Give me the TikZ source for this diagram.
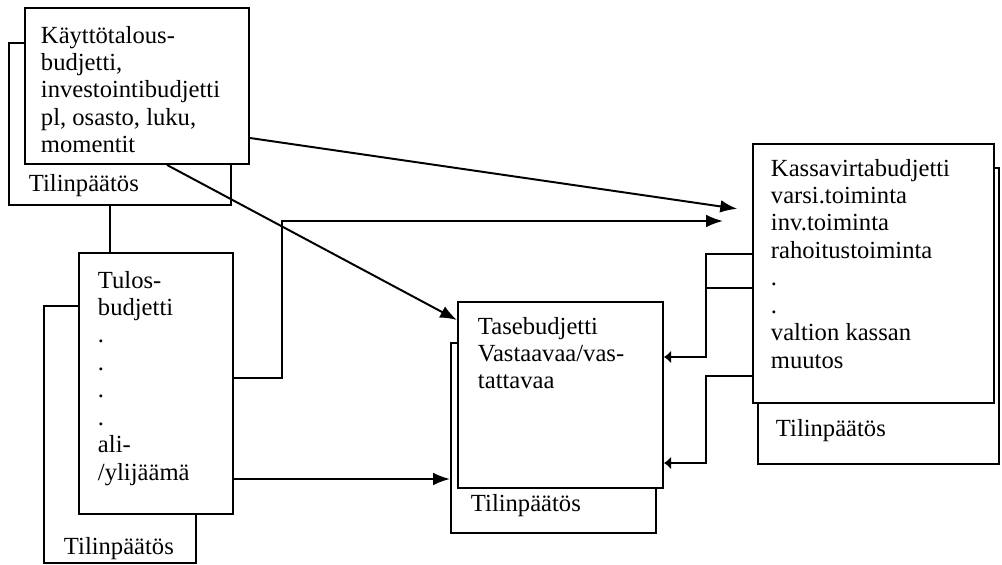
\documentclass[tikz,border=0pt]{standalone}
\usepackage{fontspec}
\setmainfont{Liberation Serif}
\usetikzlibrary{arrows.meta,calc}
\newcommand{\pxu}{0.025cm}
\newcommand{\boxfont}{\fontsize{17.5}{19.5}\selectfont}

\begin{document}
\begin{tikzpicture}[x=0.025cm, y=-0.025cm, >={Latex[length=12pt,width=9pt]},
  line width=1.4pt,
  backbox/.style={draw, anchor=north west, inner sep=0pt},
  frontbox/.style={draw, fill=white, anchor=north west, inner sep=0pt},
  txt/.style={anchor=north west, inner sep=0pt, align=left, font=\boxfont},
  blunt/.style={-{Latex[length=5pt,width=9pt]}}]

  \useasboundingbox (0,0) rectangle (1002,565);

  % Define nodes (back boxes first)
  \node[backbox, minimum width=222*\pxu, minimum height=162*\pxu] (ktback) at (8,42) {};
  \node[backbox, minimum width=152*\pxu, minimum height=257*\pxu] (tulosback) at (43,305) {};
  \node[backbox, minimum width=205*\pxu, minimum height=190*\pxu] (taseback) at (450,342) {};
  \node[backbox, minimum width=241*\pxu, minimum height=296*\pxu] (kassaback) at (757,167) {};

  \node[frontbox, minimum width=224*\pxu, minimum height=156*\pxu] (kt) at (24,7) {};
  \node[frontbox, minimum width=154*\pxu, minimum height=261*\pxu] (tulos) at (78,252) {};
  \node[frontbox, minimum width=205*\pxu, minimum height=186*\pxu] (tase) at (457,301) {};
  \node[frontbox, minimum width=241*\pxu, minimum height=259*\pxu] (kassa) at (752,143) {};

  % Texts
  \node[txt] (kttext) at (40,25) {Käyttötalous-\\budjetti,\\investointibudjetti\\pl, osasto, luku,\\momentit};
  \node[txt] (ktfoot) at (28,173) {Tilinpäätös};
  \node[txt] (tulostext) at (97,270) {Tulos-\\budjetti\\.\\.\\.\\.\\ali-\\/ylijäämä};
  \node[txt] (tulosfoot) at (63,536) {Tilinpäätös};
  \node[txt] (tasetext) at (477,316) {Tasebudjetti\\Vastaavaa/vas-\\tattavaa};
  \node[txt] (tasefoot) at (470,493) {Tilinpäätös};
  \node[txt] (kassatext) at (770,158) {Kassavirtabudjetti\\varsi.toiminta\\inv.toiminta\\rahoitustoiminta\\.\\.\\valtion kassan\\muutos};
  \node[txt] (kassafoot) at (775,418) {Tilinpäätös};

  % Draw connectors
  \draw (ktback.south -| 110,0) -- (tulos.north -| 110,0);
  \draw[->, shorten >=15*\pxu] (kt.east |- 0,138) -- (kassa.west |- 0,211);
  \draw[->] (kt.south -| 167,0) -- (tase.west |- 0,320);
  \draw[->, shorten >=29*\pxu] (tulos.east |- 0,378) -| (282,221) -- (kassa.west |- 0,221);
  \draw[->] (tulos.east |- 0,479) -- (taseback.west |- 0,479);
  \draw (kassa.west |- 0,288) -- (706,288);
  \draw[blunt] (kassa.west |- 0,254) -| (706,357) -- (tase.east |- 0,357);
  \draw[blunt] (kassa.west |- 0,376) -| (706,463) -- (tase.east |- 0,463);
\end{tikzpicture}
\end{document}
